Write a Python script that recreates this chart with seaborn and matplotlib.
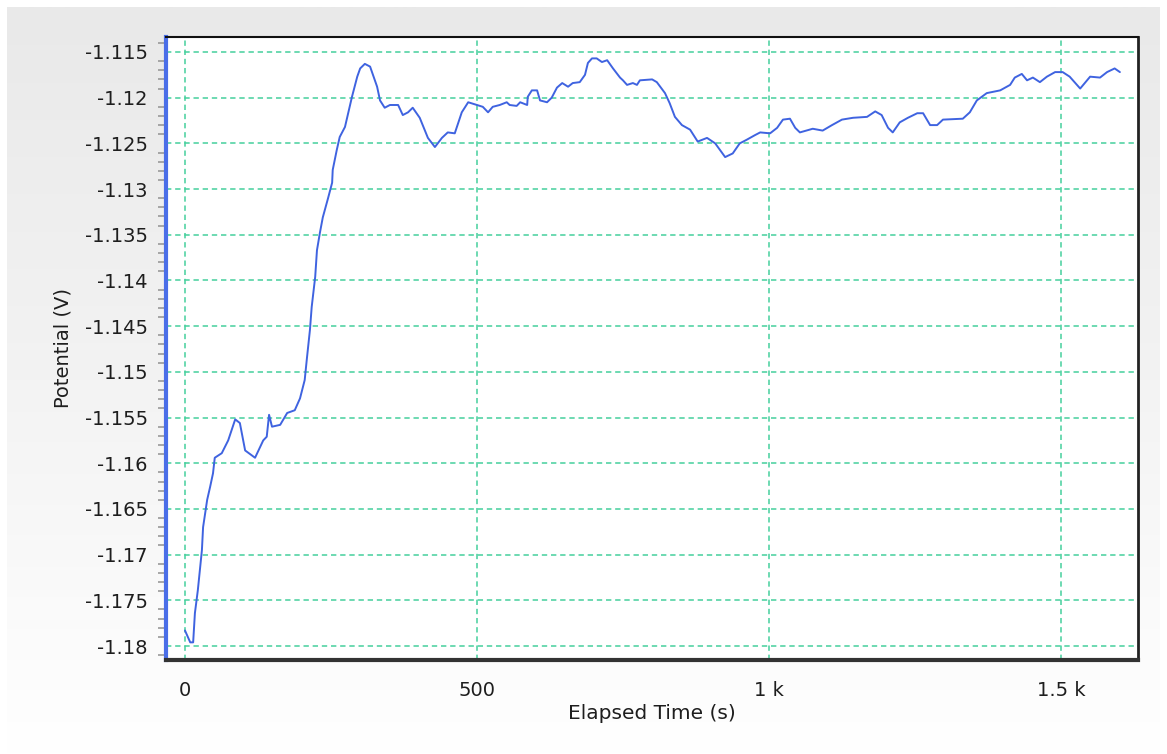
import numpy as np
import pandas as pd
import matplotlib
matplotlib.use('Agg')
import matplotlib.pyplot as plt
import seaborn as sns

# Elapsed time (s) and potential (V)
time_s = [0, 9, 14, 17, 22, 29, 31, 38, 43, 48, 51, 63, 74, 86, 94, 103, 120,
          134, 140, 144, 149, 163, 175, 188, 197, 205, 209, 214, 217, 223, 226,
          231, 236, 245, 252, 253, 260, 265, 274, 286, 295, 300, 308, 317, 329,
          334, 342, 351, 365, 373, 382, 390, 402, 416, 428, 440, 450, 462, 474,
          485, 500, 510, 519, 527, 539, 551, 556, 568, 574, 586, 587, 594, 603,
          608, 620, 628, 637, 646, 656, 664, 676, 685, 690, 697, 705, 714, 723,
          733, 745, 750, 757, 767, 774, 779, 800, 808, 822, 830, 839, 851, 865,
          878, 894, 908, 925, 938, 950, 962, 976, 985, 1002, 1014, 1024, 1036,
          1045, 1053, 1075, 1092, 1108, 1125, 1144, 1168, 1182, 1193, 1204,
          1212, 1224, 1238, 1254, 1264, 1276, 1288, 1298, 1332, 1344, 1356,
          1373, 1396, 1413, 1421, 1433, 1442, 1452, 1464, 1476, 1490, 1503,
          1515, 1533, 1550, 1567, 1579, 1592, 1601]
potential_v = [-1.1783, -1.1796, -1.1796, -1.1764, -1.1739, -1.1695, -1.1670,
               -1.1640, -1.1626, -1.1611, -1.1594, -1.1589, -1.1575, -1.1552,
               -1.1556, -1.1586, -1.1594, -1.1575, -1.1571, -1.1547, -1.1560,
               -1.1558, -1.1545, -1.1542, -1.1529, -1.1509, -1.1484, -1.1454,
               -1.1429, -1.1396, -1.1367, -1.1348, -1.1331, -1.1310, -1.1293,
               -1.1279, -1.1257, -1.1243, -1.1232, -1.1199, -1.1177, -1.1168,
               -1.1163, -1.1166, -1.1188, -1.1203, -1.1211, -1.1208, -1.1208,
               -1.1219, -1.1216, -1.1211, -1.1222, -1.1244, -1.1254, -1.1244,
               -1.1238, -1.1239, -1.1216, -1.1205, -1.1208, -1.1210, -1.1216,
               -1.1210, -1.1208, -1.1205, -1.1208, -1.1209, -1.1205, -1.1208,
               -1.1199, -1.1192, -1.1192, -1.1203, -1.1205, -1.1200, -1.1189,
               -1.1184, -1.1188, -1.1184, -1.1183, -1.1175, -1.1162, -1.1157,
               -1.1157, -1.1161, -1.1159, -1.1168, -1.1178, -1.1181, -1.1186,
               -1.1184, -1.1186, -1.1181, -1.1180, -1.1183, -1.1195, -1.1206,
               -1.1221, -1.1230, -1.1235, -1.1248, -1.1244, -1.1250, -1.1265,
               -1.1261, -1.1250, -1.1246, -1.1241, -1.1238, -1.1239, -1.1233,
               -1.1224, -1.1223, -1.1233, -1.1238, -1.1234, -1.1236, -1.1230,
               -1.1224, -1.1222, -1.1221, -1.1215, -1.1219, -1.1233, -1.1238,
               -1.1227, -1.1222, -1.1217, -1.1217, -1.1230, -1.1230, -1.1224,
               -1.1223, -1.1216, -1.1203, -1.1195, -1.1192, -1.1186, -1.1178,
               -1.1174, -1.1181, -1.1178, -1.1183, -1.1177, -1.1172, -1.1172,
               -1.1177, -1.1190, -1.1177, -1.1178, -1.1172, -1.1168, -1.1172]

x_ticks = [0, 500, 1000, 1500]
x_tick_labels = ["0", "500", "1 k", "1.5 k"]
y_ticks = [-1.115, -1.12, -1.125, -1.13, -1.135, -1.14, -1.145, -1.15,
           -1.155, -1.16, -1.165, -1.17, -1.175, -1.18]
y_tick_labels = ["-1.115", "-1.12", "-1.125", "-1.13", "-1.135", "-1.14",
                 "-1.145", "-1.15", "-1.155", "-1.16", "-1.165", "-1.17",
                 "-1.175", "-1.18"]

df = pd.DataFrame({"time": time_s, "potential": potential_v})

sns.set_style("white")
plt.rcParams['font.family'] = ['DejaVu Sans']

fig = plt.figure(figsize=(11.67, 7.54), dpi=100)
fig.patch.set_facecolor("white")

# grey panel with a soft fade to white towards the bottom
bg = fig.add_axes([7 / 1167, 0, 1153 / 1167, 1 - 7 / 754])
grad = np.linspace(0, 1, 256).reshape(-1, 1)
bg.imshow(grad, aspect="auto", cmap=matplotlib.colors.LinearSegmentedColormap.from_list(
    "bgfade", ["#e9e9e9", "#f3f3f3", "#ffffff"]), extent=[0, 1, 0, 1])
bg.set_axis_off()

ax = fig.add_axes([166 / 1167, 1 - 660 / 754, (1138 - 166) / 1167, (660 - 37) / 754])
ax.set_facecolor("white")

sns.lineplot(data=df, x="time", y="potential", ax=ax, color="#3f63e0",
             linewidth=1.4, sort=False)

ax.set_xlim(-32.5, 1632)
ax.set_ylim(-1.18153, -1.11336)
ax.set_xticks(x_ticks)
ax.set_xticklabels(x_tick_labels)
ax.set_yticks(y_ticks)
ax.set_yticklabels(y_tick_labels)
ax.set_yticks(np.arange(-1.181, -1.1135, 0.001), minor=True)

ax.grid(True, which="major", color="#45d09c", linestyle=(0, (3.5, 2.5)), linewidth=1.1)
ax.set_axisbelow(True)

ax.tick_params(axis="y", which="major", direction="out", length=10, width=1.2,
               color="#999999", labelsize=14, labelcolor="#1e1e1e", pad=3)
ax.tick_params(axis="y", which="minor", direction="out", length=6, width=1.2,
               color="#999999", left=True)
ax.tick_params(axis="x", which="major", direction="out", length=8, width=1.2,
               color="#bbbbbb", labelsize=14, labelcolor="#1e1e1e", pad=7)

ax.spines["left"].set_color("#4a6ee8")
ax.spines["left"].set_linewidth(3)
ax.spines["bottom"].set_color("#333333")
ax.spines["bottom"].set_linewidth(3)
ax.spines["top"].set_color("#111111")
ax.spines["top"].set_linewidth(1.5)
ax.spines["right"].set_color("#222222")
ax.spines["right"].set_linewidth(2)

ax.set_xlabel("Elapsed Time (s)", fontsize=14.5, color="#1e1e1e", labelpad=3)
ax.set_ylabel("Potential (V)", fontsize=14, color="#1e1e1e", labelpad=9)

plt.savefig("out.png", dpi=100)
plt.close()
